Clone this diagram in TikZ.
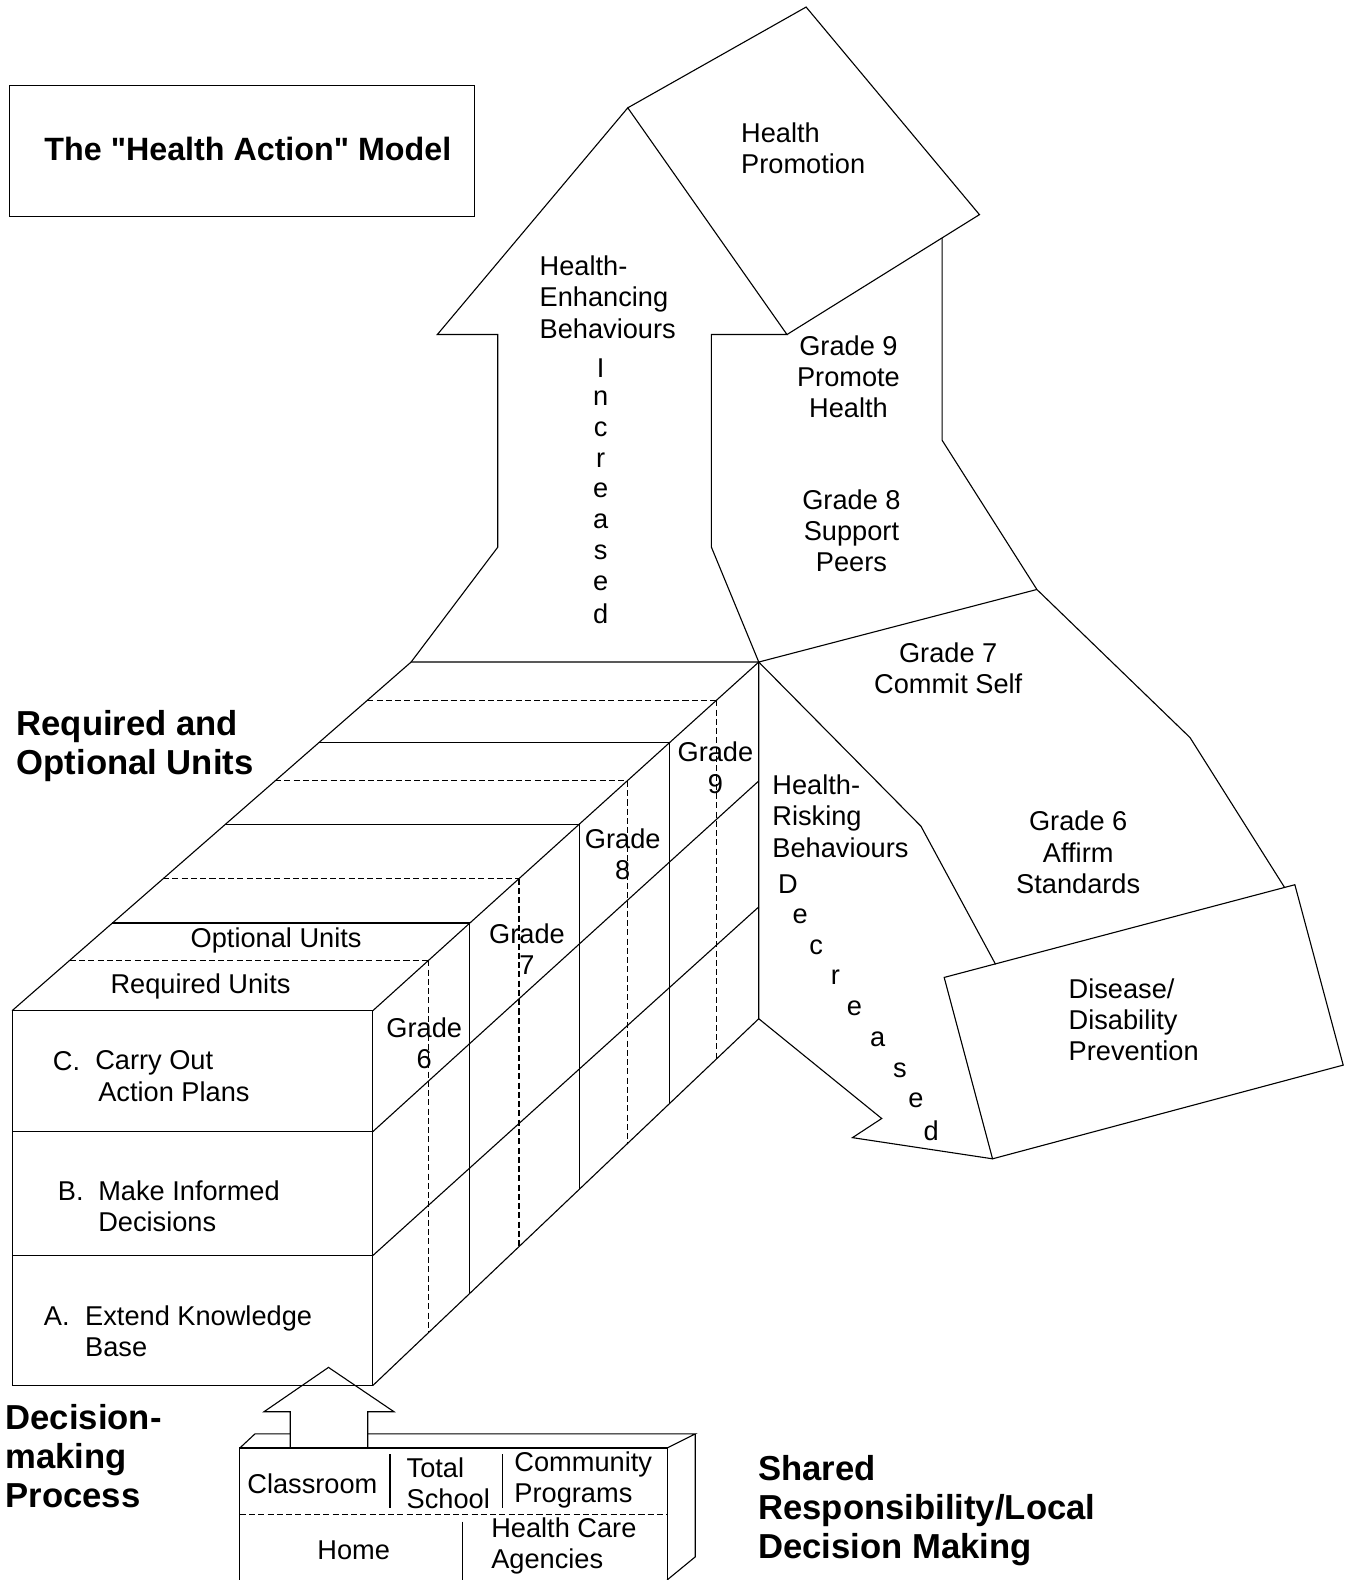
\documentclass[tikz,border=0pt]{standalone}
\usepackage{fontspec}
\setmainfont{Liberation Sans}[Ligatures=TeXOff]
\begin{document}
\begin{tikzpicture}[x=0.5pt,y=-0.5pt, line width=0.55pt, line join=miter,
  txt/.style={font=\fontsize{13.5}{15.5}\selectfont, inner sep=0pt, align=center},
  ltxt/.style={txt, align=left, anchor=west},
  big/.style={font=\fontsize{17.2}{19.3}\selectfont\bfseries, inner sep=0pt, align=left, anchor=west},
  dsh/.style={dash pattern=on 3pt off 1.6pt}]
\useasboundingbox (0,0) rectangle (1337,1568);
\fill[white] (0,0) rectangle (1337,1568);
\clip (0,0) rectangle (1337,1568);

% title
\draw (9,85) rectangle (471,215);
\node[font=\fontsize{16}{19}\selectfont\bfseries, inner sep=0pt] (title) at (246,148) {The "Health Action" Model};

% big up arrow and Health Promotion box
\draw (408,657) -- (494,543) -- (494,332) -- (434,332) -- (623,107) -- (781,332) -- (706,332) -- (706,543) -- (753,657);
\draw (623,107) -- (800,7) -- (972,213) -- (781,332);
% right column
\draw (935,236) -- (935,437) -- (1029,585) -- (1181,732) -- (1275,881);
\draw (753,657) -- (1029,585);
\draw (753,657) -- (914,820) -- (988,957);
% disease box
\draw (937,970) -- (1285,878) -- (1333,1057) -- (985,1150) -- cycle;
% lower arrow
\draw (753,1011) -- (875,1110) -- (846,1129) -- (985,1150);

% 3D box
\draw (12,1003) rectangle (370,1375);
\draw (12,1123) -- (370,1123);
\draw (12,1246) -- (370,1246);
\draw (12,1003) -- (408,657) -- (753,657) -- (753,1011) -- (370,1375);
\draw (370,1003) -- (753,657);
\draw (370,1123) -- (753,775);
\draw (370,1246) -- (753,900);
% top face horizontals
\draw[dsh] (69.2,953) -- (425.3,953);
\draw (111.6,916) -- (466.3,916);
\draw[dsh] (161.9,872) -- (515,872);
\draw (223.7,818) -- (574.8,818);
\draw[dsh] (273,775) -- (622.4,775);
\draw (316.4,737) -- (664.4,737);
\draw[dsh] (364.5,695) -- (710.9,695);
% right face verticals
\draw[dsh] (425.3,953) -- (425.3,1322.4);
\draw (466.3,916) -- (466.3,1283.5);
\draw[dsh] (515,872) -- (515,1237.2);
\draw (574.8,818) -- (574.8,1180.4);
\draw[dsh] (622.4,775) -- (622.4,1135.1);
\draw (664.4,737) -- (664.4,1095.2);
\draw[dsh] (710.9,695) -- (710.9,1051);

% bottom box
\draw (238,1570) -- (238,1437) -- (662,1437) -- (662,1570);
\draw (238,1437) -- (253,1423) -- (288,1423);
\draw (365,1423) -- (690,1423) -- (662,1437);
\draw (690,1423) -- (690,1545) -- (662,1568);
\draw[dsh] (238,1503) -- (662,1503);
\draw (387,1443) -- (387,1497);
\draw (499,1443) -- (499,1497);
\draw (459,1510) -- (459,1570);
\draw (288,1437) -- (288,1401) -- (262,1401) -- (326,1357) -- (391,1401) -- (365,1401) -- (365,1437);

% texts
\node[ltxt] (hp) at (735,147) {Health\\Promotion};
\node[ltxt] (heb) at (535,295) {Health-\\Enhancing\\Behaviours};
\foreach \l [count=\i from 0] in {I,n,c,r,e,a,s,e,d} {
  \node[txt] (inc\i) at (596,365+30.5*\i) {\l};
}
\node[txt] (g9r) at (842,374) {Grade 9\\Promote\\Health};
\node[txt] (g8r) at (845,527) {Grade 8\\Support\\Peers};
\node[txt] (g7r) at (941,663) {Grade 7\\Commit Self};
\node[txt] (g6r) at (1070,846) {Grade 6\\Affirm\\Standards};
\node[ltxt] (ddp) at (1060,1012) {Disease/\\Disability\\Prevention};
\node[ltxt] (hrb) at (766,810) {Health-\\Risking\\Behaviours};
\node[txt] (d0) at (782,877) {D};
\node[txt] (d1) at (794,909) {e};
\node[txt] (d2) at (810,940) {c};
\node[txt] (d3) at (829,970) {r};
\node[txt] (d4) at (848,1001) {e};
\node[txt] (d5) at (871,1031) {a};
\node[txt] (d6) at (893,1062) {s};
\node[txt] (d7) at (909,1092) {e};
\node[txt] (d8) at (924,1122) {d};
\node[txt] (g9) at (710,762) {Grade\\9};
\node[txt] (g8) at (618,848) {Grade\\8};
\node[txt] (g7) at (523,942) {Grade\\7};
\node[txt] (g6) at (421,1035) {Grade\\6};
\node[txt] (opt) at (274,933) {Optional Units};
\node[txt] (req) at (199,979) {Required Units};
\node[ltxt] (cl) at (52,1053) {C.};
\node[ltxt] (ct) at (94,1068) {Carry Out\\\hspace*{1.5pt}Action Plans};
\node[ltxt] (bl) at (57,1182) {B.};
\node[ltxt] (bt) at (97,1197) {Make Informed\\Decisions};
\node[ltxt] (al) at (43,1306) {A.};
\node[ltxt] (at) at (84,1321) {Extend Knowledge\\Base};
\node[big] (rou) at (16,740) {Required and\\Optional Units};
\node[big] (dmp) at (5,1445) {Decision-\\making\\Process};
\node[big] (srl) at (752,1499) {Shared\\Responsibility/Local\\Decision Making};
\node[txt] (cls) at (310,1472) {Classroom};
\node[ltxt] (ts) at (403,1472) {Total\\School};
\node[ltxt] (cp) at (510,1469) {Community\\Programs};
\node[txt] (home) at (351,1538) {Home};
\node[ltxt] (hca) at (487,1534) {Health Care\\Agencies};
\end{tikzpicture}
\end{document}
